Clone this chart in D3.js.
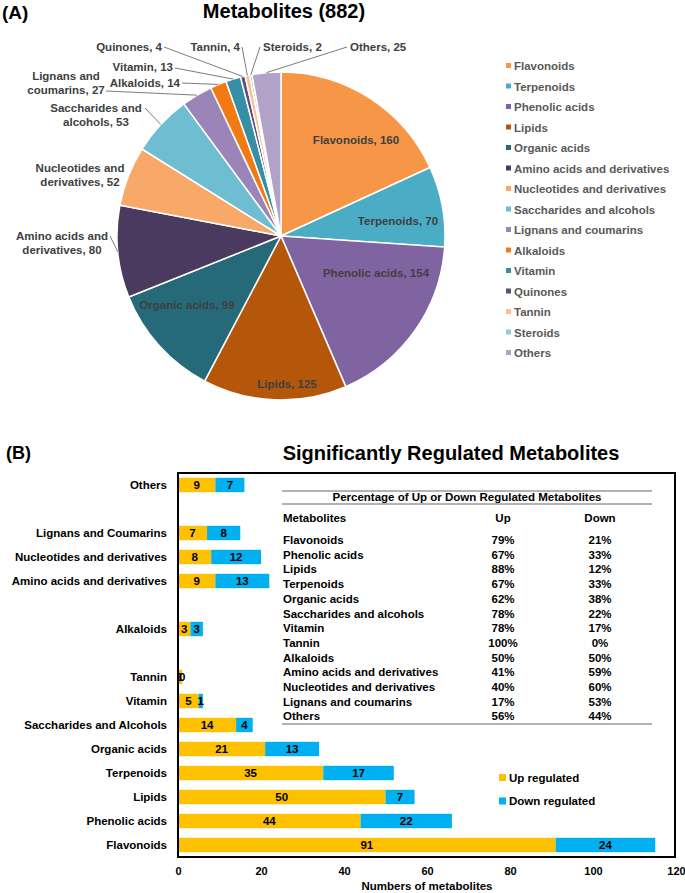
<!DOCTYPE html>
<html><head><meta charset="utf-8">
<script src="https://cdn.jsdelivr.net/npm/d3@7"></script>
<style>
body{margin:0;background:#fff}
text{font-family:"Liberation Sans",Arial,Helvetica,sans-serif;font-weight:bold}
</style>
</head><body>
<svg id="c" width="685" height="893"></svg>
<script>
// ---------- DATA ----------
const pieCategories = ["Flavonoids","Terpenoids","Phenolic acids","Lipids","Organic acids",
  "Amino acids and derivatives","Nucleotides and derivatives","Saccharides and alcohols",
  "Lignans and coumarins","Alkaloids","Vitamin","Quinones","Tannin","Steroids","Others"];
const pieValues = [160,70,154,125,99,80,52,53,27,14,13,4,4,2,25];
const pieColors = ["#F79646","#4BACC6","#8064A2","#B5570A","#266A7A","#4B3A60","#F8A96A",
  "#6FBDD1","#9B85B8","#F27A13","#368FA5","#5E4B80","#FAC090","#93CDDD","#B3A2C7"];
const pieTotal = 882;

const barCategories = ["Flavonoids","Phenolic acids","Lipids","Terpenoids","Organic acids",
  "Saccharides and Alcohols","Vitamin","Tannin","","Alkaloids","",
  "Amino acids and derivatives","Nucleotides and derivatives","Lignans and Coumarins","","Others"];
const upValues   = [91,44,50,35,21,14,5,1,0,3,0,9,8,7,0,9];
const downValues = [24,22,7,17,13,4,1,0,0,3,0,13,12,8,0,7];
const xTicks = [0,20,40,60,80,100,120];
const seriesNames = ["Up regulated","Down regulated"];
const seriesColors = ["#FFC000","#00B0F0"];

const tableNames = ["Flavonoids","Phenolic acids","Lipids","Terpenoids","Organic acids",
  "Saccharides and alcohols","Vitamin","Tannin","Alkaloids","Amino acids and derivatives",
  "Nucleotides and derivatives","Lignans and coumarins","Others"];
const tableUp   = ["79%","67%","88%","67%","62%","78%","78%","100%","50%","41%","40%","17%","56%"];
const tableDown = ["21%","33%","12%","33%","38%","22%","17%","0%","50%","59%","60%","53%","44%"];

// ---------- LAYOUT (label placement only) ----------
const pieLabelLayout = [
  {x:356,y:144,anchor:"middle"},
  {x:398,y:225,anchor:"middle"},
  {x:376,y:277,anchor:"middle"},
  {x:287,y:388,anchor:"middle"},
  {x:187,y:309,anchor:"middle"},
  {x:62,y:240,anchor:"middle",split:"Amino acids and|derivatives",from:[110,236]},
  {x:80,y:172,anchor:"middle",split:"Nucleotides and|derivatives"},
  {x:96,y:112,anchor:"middle",split:"Saccharides and|alcohols",from:[145,108]},
  {x:66,y:80,anchor:"middle",split:"Lignans and|coumarins",from:[106,91]},
  {x:180,y:87,anchor:"end",from:[182,83]},
  {x:173,y:71,anchor:"end",from:[175,68]},
  {x:162,y:51,anchor:"end",from:[164,47]},
  {x:240,y:51,anchor:"end",from:[242,47]},
  {x:263,y:51,anchor:"start",from:[260,47]},
  {x:350,y:51,anchor:"start",from:[347,47]}
];

const svg = d3.select("#c");

// ---------- PANEL A ----------
svg.append("text").attr("x",2).attr("y",19).attr("font-size",19).text("(A)");
svg.append("text").attr("x",284).attr("y",18).attr("text-anchor","middle").attr("font-size",20)
  .text(`Metabolites (${pieTotal})`);

const cx = 281, cy = 236, R = 164;
const pie = d3.pie().sort(null).value(d=>d);
const arcs = pie(pieValues);
const arc = d3.arc().innerRadius(0).outerRadius(R);
const edgeArc = d3.arc().innerRadius(R).outerRadius(R);
const gp = svg.append("g").attr("transform",`translate(${cx},${cy})`);
gp.selectAll("path").data(arcs).join("path")
  .attr("d",arc).attr("fill",(d,i)=>pieColors[i])
  .attr("stroke","#fff").attr("stroke-width",1.5);

// leader lines
arcs.forEach((d,i)=>{
  const L = pieLabelLayout[i];
  if(!L.from) return;
  const p = edgeArc.centroid(d);
  svg.append("path")
    .attr("d",d3.line()([L.from,[cx+p[0],cy+p[1]]]))
    .attr("stroke","#595959").attr("stroke-width",0.8).attr("fill","none");
});
// labels
arcs.forEach((d,i)=>{
  const L = pieLabelLayout[i];
  const t = svg.append("text").attr("x",L.x).attr("y",L.y)
    .attr("text-anchor",L.anchor).attr("font-size",11.5).attr("fill","#404040");
  if(L.split){
    const parts = L.split.split("|");
    t.append("tspan").attr("x",L.x).text(parts[0]);
    t.append("tspan").attr("x",L.x).attr("dy",13.5).text(`${parts[1]}, ${pieValues[i]}`);
  } else {
    t.text(`${pieCategories[i]}, ${pieValues[i]}`);
  }
});

// legend
const lg = svg.append("g");
pieCategories.forEach((c,i)=>{
  const yy = 66 + i*20.5;
  lg.append("rect").attr("x",506).attr("y",yy-3).attr("width",5).attr("height",5).attr("fill",pieColors[i]);
  lg.append("text").attr("x",514).attr("y",yy+4).attr("font-size",11.5).attr("fill","#595959").text(c);
});

// ---------- PANEL B ----------
svg.append("text").attr("x",6).attr("y",459).attr("font-size",18).text("(B)");
svg.append("text").attr("x",451).attr("y",460).attr("text-anchor","middle").attr("font-size",20)
  .text("Significantly Regulated Metabolites");

const x = d3.scaleLinear().domain([0,120]).range([178,676]);
const y = d3.scaleBand().domain(d3.range(barCategories.length)).range([857,473])
  .paddingInner(0.4).paddingOuter(0.2);

const gb = svg.append("g");
barCategories.forEach((c,i)=>{
  const vals = [upValues[i],downValues[i]];
  let acc = 0;
  vals.forEach((v,k)=>{
    gb.append("rect").attr("x",x(acc)).attr("y",y(i))
      .attr("width",x(acc+v)-x(acc)).attr("height",y.bandwidth())
      .attr("fill",seriesColors[k]);
    if(upValues[i]+downValues[i]>0){
      gb.append("text").attr("x",(x(acc)+x(acc+v))/2).attr("y",y(i)+y.bandwidth()/2+4)
        .attr("text-anchor","middle").attr("font-size",11.5).attr("fill","#000").text(v);
    }
    acc += v;
  });
});

// frame
svg.append("rect").attr("x",178).attr("y",473).attr("width",x(120)-178-1).attr("height",384)
  .attr("fill","none").attr("stroke","#000").attr("stroke-width",2);

// axes
const ax = svg.append("g").attr("transform","translate(0,857)")
  .call(d3.axisBottom(x).tickValues(xTicks).tickSize(0).tickPadding(10));
ax.select(".domain").remove();
ax.selectAll("text").attr("font-size",11).attr("fill","#000");
const ay = svg.append("g").attr("transform","translate(178,0)")
  .call(d3.axisLeft(y).tickFormat(i=>barCategories[i]).tickSize(0).tickPadding(11));
ay.select(".domain").remove();
ay.selectAll("text").attr("font-size",11.5).attr("fill","#000");
svg.selectAll(".tick text").attr("font-family",null).style("font-weight","bold");
svg.append("text").attr("x",427).attr("y",890).attr("text-anchor","middle").attr("font-size",11.5)
  .text("Numbers of metabolites");

// bar legend
seriesNames.forEach((s,k)=>{
  const yy = 777 + k*23.5;
  svg.append("rect").attr("x",499).attr("y",yy-3).attr("width",7).attr("height",7).attr("fill",seriesColors[k]);
  svg.append("text").attr("x",509).attr("y",yy+4.5).attr("font-size",11.5).text(s);
});

// table
const tb = svg.append("g");
[491,504,724].forEach(yy=>tb.append("line").attr("x1",282).attr("x2",652).attr("y1",yy).attr("y2",yy)
  .attr("stroke","#666").attr("stroke-width",1));
tb.append("text").attr("x",467).attr("y",501).attr("text-anchor","middle").attr("font-size",11.5)
  .text("Percentage of Up or Down Regulated Metabolites");
tb.append("text").attr("x",283).attr("y",522).attr("font-size",11.5).text("Metabolites");
tb.append("text").attr("x",503).attr("y",522).attr("text-anchor","middle").attr("font-size",11.5).text("Up");
tb.append("text").attr("x",600).attr("y",522).attr("text-anchor","middle").attr("font-size",11.5).text("Down");
tableNames.forEach((n,i)=>{
  const yy = 544 + i*14.7;
  tb.append("text").attr("x",283).attr("y",yy).attr("font-size",11.5).text(n);
  tb.append("text").attr("x",503).attr("y",yy).attr("text-anchor","middle").attr("font-size",11.5).text(tableUp[i]);
  tb.append("text").attr("x",600).attr("y",yy).attr("text-anchor","middle").attr("font-size",11.5).text(tableDown[i]);
});
</script>
</body></html>
